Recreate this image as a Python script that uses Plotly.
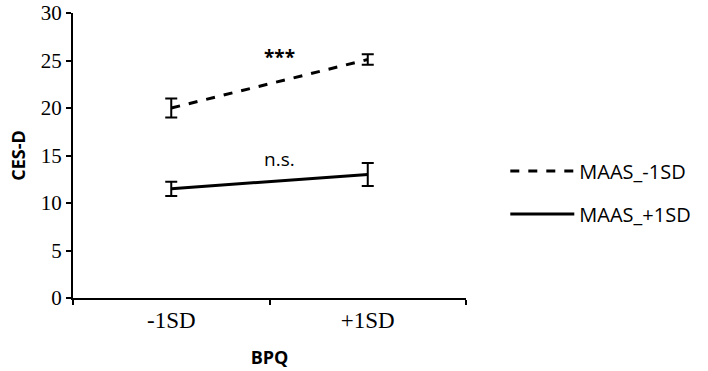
import plotly.graph_objects as go

categories = ["-1SD", "+1SD"]
maas_low = [20.0, 25.1]
maas_low_err = [1.0, 0.55]
maas_high = [11.5, 13.0]
maas_high_err = [0.75, 1.2]
series_names = ["MAAS_-1SD", "MAAS_+1SD"]
y_ticks = [0, 5, 10, 15, 20, 25, 30]
annotations_text = ["<b>***</b>", "n.s."]
annotation_y = [25.4, 14.6]

SANS = "Open Sans, Liberation Sans, sans-serif"
SERIF = "Liberation Serif, Times New Roman, serif"

fig = go.Figure()
fig.add_trace(go.Scatter(
    x=categories, y=maas_low, name=series_names[0], mode="lines", legendgroup="a",
    line=dict(color="black", width=3, dash="dash"),
    error_y=dict(type="data", array=maas_low_err, color="black", thickness=2, width=6),
))
fig.add_trace(go.Scatter(
    x=categories, y=maas_high, name=series_names[1], mode="lines", legendgroup="b",
    line=dict(color="black", width=3),
    error_y=dict(type="data", array=maas_high_err, color="black", thickness=2, width=6),
))

for txt, yv in zip(annotations_text, annotation_y):
    fig.add_annotation(x=0.55, y=yv, xref="x", yref="y", text=txt, showarrow=False,
                       font=dict(family=SANS, size=19, color="black"))

fig.update_layout(
    width=708, height=371,
    margin=dict(l=73, r=228, t=13, b=73),
    plot_bgcolor="white", paper_bgcolor="white",
    showlegend=True,
    legend=dict(x=1.10, y=0.37, xanchor="left", yanchor="middle",
                font=dict(family=SANS, size=20, color="black"),
                itemwidth=64, tracegroupgap=14, bgcolor="rgba(0,0,0,0)"),
)
fig.update_xaxes(
    type="category", range=[-0.5, 1.5], showline=True, linecolor="black", linewidth=2,
    ticks="outside", tickson="boundaries", ticklen=5, tickwidth=2, tickcolor="black",
    showgrid=False, zeroline=False, automargin=False,
    tickfont=dict(family=SERIF, size=23, color="black"),
    title=dict(text="<b>BPQ</b>", font=dict(family=SANS, size=18, color="black"), standoff=20),
)
fig.update_yaxes(
    range=[0, 30], tickvals=y_ticks, showline=True, linecolor="black", linewidth=2,
    ticks="outside", ticklen=5, tickwidth=2, tickcolor="black",
    showgrid=False, zeroline=False, ticklabeloverflow="allow", automargin=False,
    tickfont=dict(family=SERIF, size=21, color="black"),
    title=dict(text="<b>CES-D</b>", font=dict(family=SANS, size=18, color="black"), standoff=10),
)

fig.write_html("out.html")
